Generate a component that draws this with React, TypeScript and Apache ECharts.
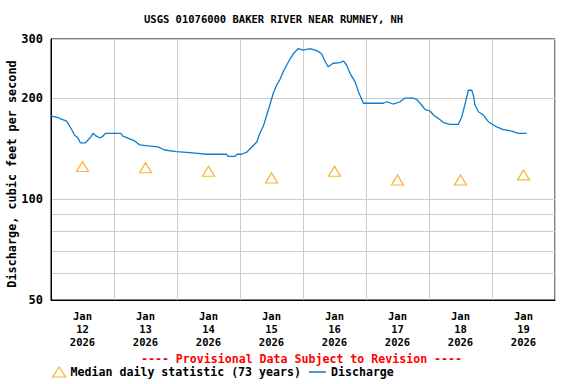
import React, { useEffect, useRef } from "react";
import * as echarts from "echarts";

const FONT = '"DejaVu Sans Mono", "Liberation Mono", monospace';

// Hours since Jan 12 2026 00:00 and discharge (cfs)
const hours = [
  0, 2.7, 3.9, 5.8, 6.5, 7.7, 9.0, 10.3, 11.2, 13.1, 14.1, 15.1, 16.0, 17.3, 18.6, 19.8, 20.7,
  26.6, 27.4, 29.3, 31.9, 33.8, 37.0, 40.8, 43.3, 47.7, 50.4, 54.9, 59.3, 66.9, 67.4, 70.1,
  70.9, 72.6, 74.6, 76.5, 78.4, 79.6, 80.9, 82.2, 83.4, 84.7, 86.0, 87.2, 88.5, 89.8, 91.0,
  92.3, 94.2, 96.1, 98.7, 101.2, 103.1, 104.4, 105.6, 107.5, 110.1, 111.4, 112.6, 113.9,
  115.8, 117.1, 118.4, 119.0, 126.6, 127.9, 130.4, 133.0, 134.9, 138.0, 139.3, 140.6, 142.5,
  144.4, 145.7, 147.5, 149.5, 152.0, 155.2, 156.5, 157.6, 159.0, 160.3, 160.9, 161.5, 162.8,
  164.7, 166.6, 169.8, 172.3, 175.5, 178.0, 181.2,
];
const discharge = [
  177, 175, 173, 171, 168, 162, 155, 152, 147, 147, 150, 153, 157, 154, 152, 154, 157,
  157, 154, 152, 149, 145, 144, 143, 140, 138.5, 138, 137, 136, 136, 134, 134,
  136, 136, 138, 143, 148, 157, 165, 178, 191, 207, 219, 227, 240, 251, 261,
  271, 281, 278, 281, 277, 271, 257, 248, 254, 255, 258, 251, 237,
  224, 209, 198, 193, 193, 195, 192, 195, 200, 200, 198, 193, 185,
  183, 178, 174, 169, 167, 167, 176, 190, 211, 211, 204, 191, 182,
  178, 170, 164, 161, 159.5, 157, 157,
];

const medianHours = [12, 36, 60, 84, 108, 132, 156, 180];
const medianCfs = [125, 124, 121, 115.5, 121, 114, 114, 118];

const dayLabels = ["12", "13", "14", "15", "16", "17", "18", "19"];
const monthLabel = "Jan";
const yearLabel = "2026";

const yGridValues = [50, 60, 70, 80, 90, 100, 200, 300];
const yLabelValues = [50, 100, 200, 300];

const TITLE = "USGS 01076000 BAKER RIVER NEAR RUMNEY, NH";
const Y_NAME = "Discharge, cubic feet per second";
const PROVISIONAL = "---- Provisional Data Subject to Revision ----";
const MEDIAN_NAME = "Median daily statistic (73 years)";
const DISCHARGE_NAME = "Discharge";

const LINE_COLOR = "#0a7dd0";
const TRI_COLOR = "#f5a300";

export default function App() {
  const ref = useRef<HTMLDivElement>(null);
  useEffect(() => {
    if (!ref.current) return;
    const chart = echarts.init(ref.current, null, { renderer: "svg" });
    const lineData = hours.map((h, i) => [h, discharge[i]]);
    const medData = medianHours.map((h, i) => [h, medianCfs[i]]);
    chart.setOption({
      animation: false,
      backgroundColor: "#fff",
      title: {
        text: TITLE,
        left: 144,
        top: 13,
        padding: 0,
        textStyle: { fontFamily: FONT, fontSize: 10.5, fontWeight: "bold", color: "#000" },
      },
      grid: {
        left: 51,
        right: 21,
        top: 39,
        bottom: 84,
        show: true,
        borderColor: "#000",
        borderWidth: 1,
        backgroundColor: "#fff",
      },
      legend: [
        {
          left: 52,
          top: 366,
          padding: 0,
          itemWidth: 13,
          itemHeight: 10,
          data: [
            {
              name: MEDIAN_NAME,
              icon: "triangle",
              itemStyle: { color: "rgba(0,0,0,0)", borderColor: TRI_COLOR, borderWidth: 1.2 },
            },
          ],
          textStyle: { fontFamily: FONT, fontSize: 11.6, fontWeight: "bold", color: "#000" },
        },
        {
          left: 309,
          top: 366,
          padding: 0,
          itemWidth: 17,
          itemHeight: 1.5,
          data: [{ name: DISCHARGE_NAME, icon: "rect", itemStyle: { color: LINE_COLOR } }],
          textStyle: { fontFamily: FONT, fontSize: 11.6, fontWeight: "bold", color: "#000" },
        },
      ],
      xAxis: [
        {
          type: "value",
          min: 0,
          max: 192,
          interval: 24,
          position: "bottom",
          axisLine: { show: true, onZero: false, lineStyle: { color: "#000", width: 1 } },
          axisTick: { show: false },
          axisLabel: { show: false },
          splitLine: { show: true, lineStyle: { color: "#cccccc", width: 1 } },
        },
        {
          type: "value",
          min: 0,
          max: 192,
          interval: 12,
          position: "bottom",
          axisLine: { show: false },
          axisTick: { show: false },
          splitLine: { show: false },
          axisLabel: {
            show: true,
            margin: 9,
            fontFamily: FONT,
            fontSize: 10.5,
            fontWeight: "bold",
            lineHeight: 13,
            color: "#000",
            formatter: (v: number) => {
              if (Math.round(v) % 24 !== 12) return "";
              const idx = Math.floor(v / 24);
              return `${monthLabel}\n${dayLabels[idx]}\n${yearLabel}`;
            },
          },
        },
      ],
      yAxis: {
        type: "log",
        logBase: 10,
        min: 50,
        max: 300,
        axisLine: { show: true, lineStyle: { color: "#000", width: 1 } },
        axisTick: { show: false, customValues: yGridValues },
        splitLine: { show: true, lineStyle: { color: "#cccccc", width: 1 } },
        axisLabel: {
          customValues: yLabelValues,
          margin: 8,
          fontFamily: FONT,
          fontSize: 12,
          fontWeight: "bold",
          color: "#000",
        },
      },
      graphic: [
        {
          type: "text",
          x: 12,
          y: 174,
          rotation: Math.PI / 2,
          style: {
            text: Y_NAME,
            align: "center",
            verticalAlign: "middle",
            fontFamily: FONT,
            fontSize: 11.8,
            fontWeight: "bold",
            fill: "#000",
          },
        },
        {
          type: "text",
          x: 301.5,
          y: 359,
          style: {
            text: PROVISIONAL,
            align: "center",
            verticalAlign: "middle",
            fontFamily: FONT,
            fontSize: 11.6,
            fontWeight: "bold",
            fill: "#ff0000",
          },
        },
      ],
      series: [
        {
          name: MEDIAN_NAME,
          type: "scatter",
          xAxisIndex: 0,
          symbol: "triangle",
          symbolSize: [12, 10],
          itemStyle: { color: "rgba(0,0,0,0)", borderColor: TRI_COLOR, borderWidth: 1.2 },
          data: medData,
          z: 3,
        },
        {
          name: DISCHARGE_NAME,
          type: "line",
          xAxisIndex: 0,
          symbol: "none",
          showSymbol: false,
          lineStyle: { color: LINE_COLOR, width: 1.3 },
          itemStyle: { color: LINE_COLOR },
          data: lineData,
          z: 4,
        },
      ],
    });
    return () => chart.dispose();
  }, []);
  return (
    <div
      ref={ref}
      style={{ position: "fixed", left: 0, top: 0, width: 576, height: 384 }}
    />
  );
}
